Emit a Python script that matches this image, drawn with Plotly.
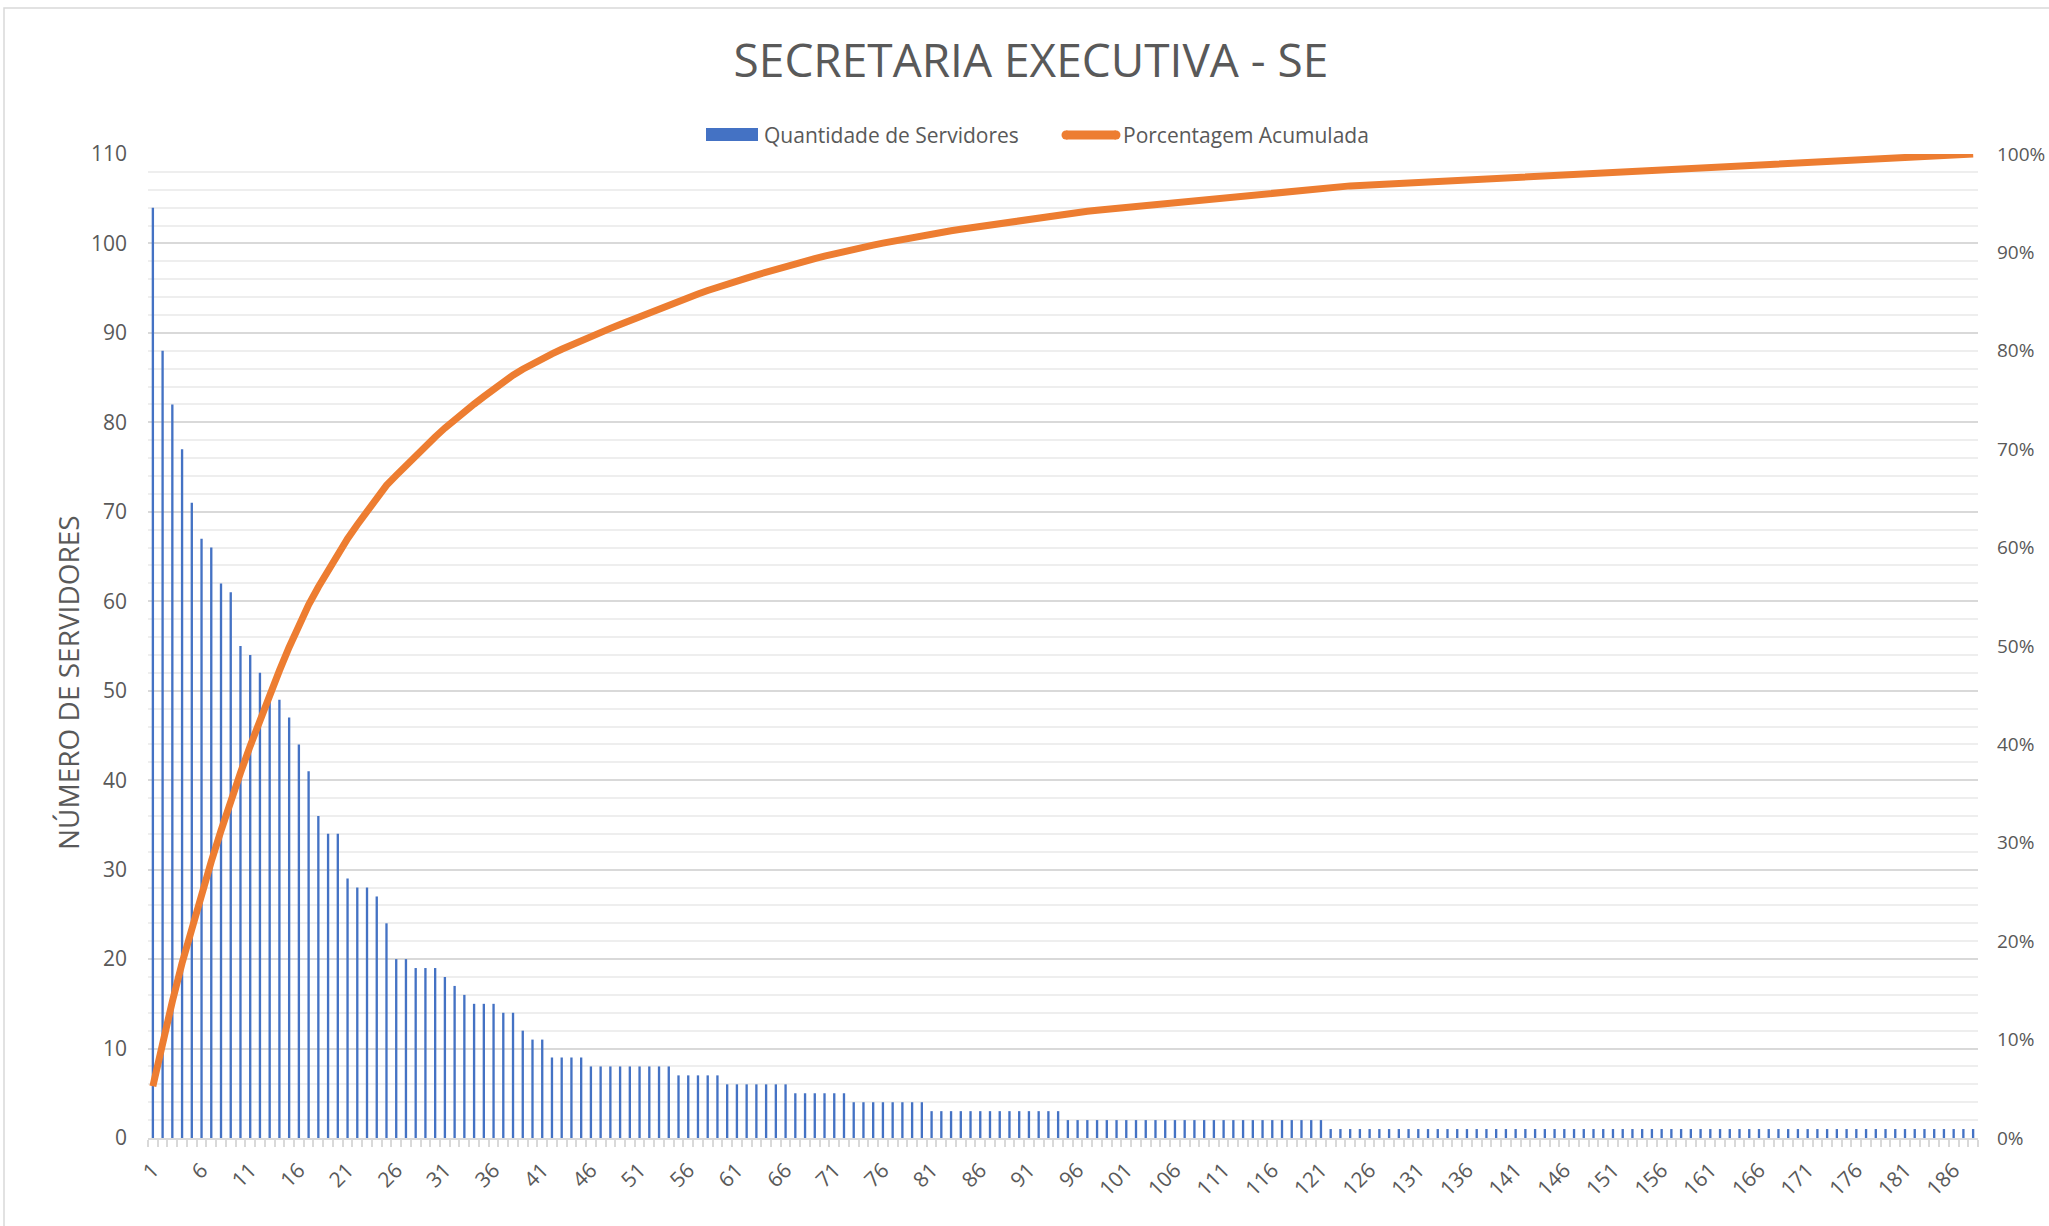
import plotly.graph_objects as go
import numpy as np

# ---- data ----
ranks = list(range(1, 189))
servidores = [
    104, 88, 82, 77, 71, 67, 66, 62, 61, 55, 54, 52,
    50, 49, 47, 44, 41, 36, 34, 34,
    29, 28, 28, 27, 24, 20, 20, 19, 19, 19,
    18, 17, 16, 15, 15, 15, 14, 14, 12, 11, 11,
    9, 9, 9, 9,
    8, 8, 8, 8, 8, 8, 8, 8, 8,
    7, 7, 7, 7, 7,
    6, 6, 6, 6, 6, 6, 6,
    5, 5, 5, 5, 5, 5,
    4, 4, 4, 4, 4, 4, 4, 4,
    3, 3, 3, 3, 3, 3, 3, 3, 3, 3, 3, 3, 3, 3,
    2, 2, 2, 2, 2, 2, 2, 2, 2, 2, 2, 2, 2, 2, 2, 2, 2, 2, 2, 2, 2, 2, 2, 2, 2, 2, 2,
    1, 1, 1, 1, 1, 1, 1, 1, 1, 1, 1, 1, 1, 1, 1, 1, 1, 1, 1, 1,
    1, 1, 1, 1, 1, 1, 1, 1, 1, 1, 1, 1, 1, 1, 1, 1, 1, 1, 1, 1,
    1, 1, 1, 1, 1, 1, 1, 1, 1, 1, 1, 1, 1, 1, 1, 1, 1, 1, 1, 1,
    1, 1, 1, 1, 1, 1, 1,
]
x_tick_vals = list(range(1, 189, 5))
x_tick_text = [str(v) for v in x_tick_vals]
y_left_ticks = list(range(0, 111, 10))
y_right_ticks = [i / 10 for i in range(0, 11)]
series_names = ["Quantidade de Servidores", "Porcentagem Acumulada"]

cum_pct = np.cumsum(servidores) / np.sum(servidores)

W, H = 2049, 1226
L, R, T, B = 148, 71, 154, 88
PW, PH = W - L - R, H - T - B

TXT = "#595959"
FONT = "Open Sans"
BLUE = "#4472C4"
ORANGE = "#ED7D31"


def px(xpix):
    return (xpix - L) / PW


def py(ypix):
    return (H - B - ypix) / PH


fig = go.Figure()
fig.add_trace(go.Bar(
    x=ranks, y=servidores, name=series_names[0],
    marker=dict(color=BLUE, line=dict(width=0)), showlegend=False,
))
fig.add_trace(go.Scatter(
    x=ranks, y=cum_pct, name=series_names[1], yaxis="y2",
    mode="lines", line=dict(color=ORANGE, width=7), showlegend=False,
))

LEG_Y = 135
fig.update_layout(
    width=W, height=H,
    margin=dict(l=L, r=R, t=T, b=B, autoexpand=False),
    paper_bgcolor="white", plot_bgcolor="white",
    bargap=0.76,
    font=dict(family=FONT, color=TXT, size=20),
    title=dict(text="SECRETARIA EXECUTIVA - SE", x=1031 / W, xanchor="center",
               y=1 - 61 / H, yanchor="middle",
               font=dict(family=FONT, size=46, color=TXT)),
    showlegend=False,
    xaxis=dict(
        range=[0.5, 188.5], tickmode="array", tickvals=x_tick_vals,
        ticktext=x_tick_text, tickangle=-45, ticks="",
        ticklabelstandoff=10, automargin=False,
        showgrid=False, zeroline=False,
        showline=True, linecolor="#d9d9d9", linewidth=1.5,
        tickfont=dict(size=21, color=TXT),
        minor=dict(tickmode="linear", tick0=0.5, dtick=1, ticks="outside",
                   ticklen=7, tickcolor="#d9d9d9", tickwidth=1.5, showgrid=False),
    ),
    yaxis=dict(
        range=[0, 110], tickmode="array", tickvals=y_left_ticks,
        showgrid=True, gridcolor="#d9d9d9", gridwidth=1.5,
        zeroline=False, showline=False, ticks="", automargin=False,
        ticklabelstandoff=20,
        tickfont=dict(size=21, color=TXT),
        minor=dict(dtick=2, showgrid=True, gridcolor="#eeeeee", gridwidth=1.5),
    ),
    yaxis2=dict(
        range=[0, 1], overlaying="y", side="right",
        tickmode="array", tickvals=y_right_ticks, tickformat=".0%",
        showgrid=False, zeroline=False, showline=False, ticks="",
        ticklabelstandoff=18, automargin=False,
        tickfont=dict(size=19, color=TXT),
    ),
    annotations=[
        dict(text="NÚMERO DE SERVIDORES", textangle=-90,
             xref="paper", yref="paper", x=px(68), y=py(683),
             xanchor="center", yanchor="middle", showarrow=False,
             font=dict(size=28, color=TXT, family=FONT)),
        dict(text=series_names[0], xref="paper", yref="paper",
             x=px(762), y=py(LEG_Y), xanchor="left", yanchor="middle",
             showarrow=False, font=dict(size=21, color=TXT, family=FONT)),
        dict(text=series_names[1], xref="paper", yref="paper",
             x=px(1121), y=py(LEG_Y), xanchor="left", yanchor="middle",
             showarrow=False, font=dict(size=21, color=TXT, family=FONT)),
    ],
    shapes=[
        dict(type="rect", xref="paper", yref="paper",
             x0=px(4), x1=px(W + 20), y0=py(H + 20), y1=py(8),
             line=dict(color="#d9d9d9", width=1.5), fillcolor="rgba(0,0,0,0)",
             layer="below"),
        # legend swatches
        dict(type="rect", xref="paper", yref="paper",
             x0=px(706), x1=px(758), y0=py(LEG_Y + 6), y1=py(LEG_Y - 7),
             line=dict(width=0), fillcolor=BLUE),
        dict(type="line", xref="paper", yref="paper",
             x0=px(1066), x1=px(1116), y0=py(LEG_Y), y1=py(LEG_Y),
             line=dict(color=ORANGE, width=9)),
        dict(type="circle", xref="paper", yref="paper",
             x0=px(1061.5), x1=px(1070.5), y0=py(LEG_Y + 4.5), y1=py(LEG_Y - 4.5),
             line=dict(width=0), fillcolor=ORANGE),
        dict(type="circle", xref="paper", yref="paper",
             x0=px(1111.5), x1=px(1120.5), y0=py(LEG_Y + 4.5), y1=py(LEG_Y - 4.5),
             line=dict(width=0), fillcolor=ORANGE),
    ],
)

fig.write_html("out.html", config={"displayModeBar": False},
               post_script="document.body.style.margin='0';document.body.style.overflow='hidden';")
